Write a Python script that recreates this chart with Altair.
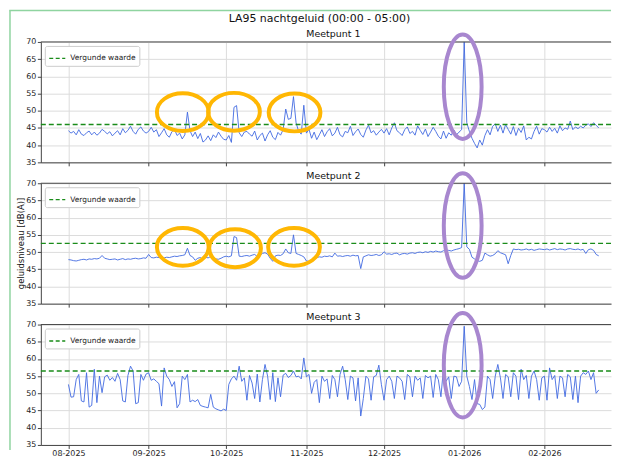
import altair as alt
import pandas as pd

# ---------------- text ----------------
title_text = "LA95 nachtgeluid (00:00 - 05:00)"
panel_titles = ["Meetpunt 1", "Meetpunt 2", "Meetpunt 3"]
limit_label = "Vergunde waarde"
y_label = "geluidsniveau [dB(A)]"
limits = [46.0, 52.5, 56.5]
start_date = "2025-08-01"
tick_months = [(2025, 8), (2025, 9), (2025, 10), (2025, 11), (2025, 12), (2026, 1), (2026, 2)]
y_ticks = [35, 40, 45, 50, 55, 60, 65, 70]

# ---------------- nightly LA95 values (one per night, from 1 Aug 2025) ----------------
mp1_aug = [44.2, 43.5, 44.0, 43.0, 44.5, 43.2, 42.8, 43.6, 44.1, 43.0, 43.8, 42.9, 43.5, 44.6, 44.0, 43.3,
           43.9, 42.7, 43.5, 44.2, 43.0, 44.8, 43.6, 44.3, 45.5, 44.0, 43.2, 44.6, 45.3, 44.1, 43.5]
mp1_sep = [44.0, 45.2, 43.8, 44.5, 42.5, 43.6, 44.8, 43.0, 42.3, 43.9, 44.6, 42.8, 43.5, 41.8, 43.0, 49.6,
           44.2, 42.5, 43.8, 41.9, 43.4, 40.9, 41.5, 42.7, 41.3, 43.0, 42.2, 43.8, 42.6, 41.7]
mp1_oct = [41.5, 42.8, 40.8, 51.0, 51.5, 43.6, 42.5, 43.8, 44.0, 43.2, 42.6, 44.1, 41.5, 42.8, 43.5, 41.2,
           43.0, 44.2, 42.3, 41.6, 43.7, 42.9, 44.5, 50.5, 47.5, 47.8, 54.1, 46.5, 44.0, 43.2, 51.6]
mp1_nov = [43.5, 44.6, 42.0, 43.8, 41.6, 43.0, 44.5, 42.5, 43.9, 44.8, 42.7, 43.5, 45.2, 43.0, 42.4, 44.0,
           43.6, 45.5, 42.8, 43.9, 44.7, 43.1, 42.3, 44.4, 45.8, 43.6, 44.2, 42.9, 43.8, 44.6]
mp1_dec = [43.5, 44.8, 43.0, 45.0, 46.5, 44.2, 43.6, 42.8, 44.5, 45.3, 43.4, 44.0, 42.9, 45.6, 44.3, 43.1,
           44.7, 42.5, 43.8, 45.2, 44.0, 42.6, 41.8, 44.1, 42.0, 43.6, 42.9, 44.4, 43.0, 43.8, 44.5]
mp1_jan = [70.0, 46.5, 44.0, 42.0, 40.5, 39.2, 41.5, 40.0, 42.8, 44.5, 43.0, 45.5, 46.2, 44.0, 45.8, 43.5,
           46.0, 44.6, 43.2, 45.4, 42.8, 44.9, 43.7, 45.6, 41.5, 42.3, 41.8, 44.0, 45.5, 43.2, 44.8]
mp1_feb = [44.5, 43.8, 45.2, 44.0, 44.9, 43.5, 45.6, 44.2, 45.0, 44.6, 47.0, 44.5, 45.3, 44.8, 45.5, 45.0,
           45.8, 46.2, 45.4, 46.5, 45.8, 45.0]

mp2_aug = [47.8, 47.7, 47.5, 47.4, 47.6, 47.8, 47.9, 47.7, 48.0, 47.9, 48.1, 48.0, 48.2, 49.0, 48.2, 48.0,
           47.8, 47.9, 48.0, 47.7, 47.9, 48.1, 47.8, 48.0, 47.9, 48.1, 48.2, 48.0, 48.1, 48.3, 48.2]
mp2_sep = [49.3, 48.4, 48.3, 48.5, 48.4, 48.6, 48.3, 48.5, 48.4, 48.6, 48.8, 48.7, 48.9, 49.0, 49.2, 51.1,
           49.0, 48.6, 47.6, 48.2, 48.4, 47.8, 48.5, 48.3, 48.7, 48.5, 48.0, 47.9, 48.2, 48.6]
mp2_oct = [48.8, 48.6, 48.9, 54.5, 54.2, 48.8, 48.7, 48.9, 49.0, 48.8, 49.1, 49.3, 48.7, 49.0, 49.6, 49.8,
           49.4, 48.2, 47.3, 48.9, 49.1, 49.0, 49.5, 50.9, 49.8, 49.6, 55.0, 49.6, 49.3, 49.0, 48.6]
mp2_nov = [47.4, 47.3, 47.5, 47.8, 48.4, 48.6, 48.5, 48.8, 48.7, 48.9, 48.6, 49.7, 48.8, 48.9, 48.7, 48.9,
           49.0, 48.8, 49.1, 48.9, 49.0, 45.2, 48.6, 48.9, 49.2, 49.0, 49.1, 49.3, 49.0, 49.2]
mp2_dec = [50.1, 49.4, 49.5, 49.3, 49.6, 49.7, 49.2, 49.5, 49.6, 49.4, 49.7, 49.8, 49.6, 49.9, 50.0, 49.8,
           50.1, 49.9, 50.2, 50.0, 50.3, 50.1, 50.0, 50.4, 50.2, 50.5, 50.3, 50.6, 50.8, 51.0, 51.3]
mp2_jan = [70.0, 51.5, 50.8, 48.5, 48.0, 47.5, 47.3, 47.6, 49.7, 49.2, 48.8, 49.0, 49.5, 50.4, 49.8, 49.5,
           49.2, 46.6, 49.0, 50.9, 50.7, 50.8, 50.6, 50.7, 50.9, 50.6, 50.8, 50.5, 50.7, 50.9, 50.8]
mp2_feb = [50.7, 50.9, 50.6, 50.8, 51.0, 50.7, 50.9, 50.8, 50.6, 50.9, 51.0, 50.8, 50.7, 50.9, 50.6, 50.8,
           49.6, 50.7, 50.9, 50.5, 49.3, 48.9]

mp3_aug = [52.6, 48.9, 49.0, 54.0, 55.5, 47.8, 47.5, 56.0, 46.0, 46.5, 57.0, 47.3, 55.0, 50.2, 54.8, 55.3,
           53.8, 54.6, 53.5, 55.8, 54.0, 47.8, 47.5, 55.2, 57.9, 56.5, 47.0, 47.3, 55.5, 53.8, 55.6]
mp3_sep = [56.0, 53.8, 54.2, 53.5, 52.8, 46.3, 57.4, 55.0, 54.0, 52.0, 53.4, 45.8, 47.0, 55.0, 54.0, 55.5,
           47.5, 48.0, 47.6, 48.2, 46.5, 46.2, 46.0, 45.8, 49.7, 46.0, 45.5, 45.2, 44.9, 45.4]
mp3_oct = [45.0, 52.6, 54.2, 55.0, 53.8, 57.9, 53.5, 54.5, 48.0, 55.2, 53.0, 48.5, 55.6, 47.5, 54.0, 58.4,
           55.0, 48.2, 56.0, 47.6, 54.5, 49.0, 55.3, 55.8, 54.6, 55.2, 56.5, 54.8, 55.0, 54.2, 60.3]
mp3_nov = [54.8, 55.5, 50.0, 53.2, 54.0, 47.3, 55.0, 53.5, 54.2, 48.5, 55.2, 54.0, 49.0, 55.5, 57.9, 54.0,
           48.2, 55.0, 54.5, 47.8, 54.5, 43.4, 48.5, 55.0, 54.2, 48.0, 54.8, 55.2, 58.2, 52.5]
mp3_dec = [48.0, 54.0, 55.0, 53.5, 48.5, 55.0, 54.5, 53.5, 48.2, 55.5, 54.8, 49.0, 55.0, 53.8, 54.5, 48.5,
           55.2, 54.5, 55.0, 48.8, 55.5, 54.0, 49.0, 57.4, 53.5, 54.8, 48.5, 55.0, 54.8, 52.0, 53.5]
mp3_jan = [69.5, 55.0, 52.0, 48.2, 54.0, 47.0, 46.8, 45.3, 46.0, 55.0, 54.0, 48.5, 55.0, 58.4, 54.5, 48.5,
           55.5, 54.8, 49.0, 56.0, 55.0, 48.2, 57.0, 54.0, 55.2, 48.5, 55.0, 56.5, 54.0, 48.0, 54.5]
mp3_feb = [55.0, 48.0, 57.4, 54.0, 55.2, 48.5, 55.0, 54.5, 49.0, 55.5, 54.8, 48.2, 55.0, 47.3, 55.0, 56.0,
           55.5, 56.5, 54.0, 56.0, 50.0, 51.0]

series = [
    mp1_aug + mp1_sep + mp1_oct + mp1_nov + mp1_dec + mp1_jan + mp1_feb,
    mp2_aug + mp2_sep + mp2_oct + mp2_nov + mp2_dec + mp2_jan + mp2_feb,
    mp3_aug + mp3_sep + mp3_oct + mp3_nov + mp3_dec + mp3_jan + mp3_feb,
]

# ---------------- annotation ellipses (centres) ----------------
orange_panel = [1, 1, 1, 2, 2, 2]
orange_date = ["2025-09-14T05:00:00Z", "2025-10-04T00:00:00Z", "2025-10-27T10:00:00Z",
               "2025-09-14T05:00:00Z", "2025-10-04T10:00:00Z", "2025-10-27T05:00:00Z"]
orange_value = [49.6, 49.7, 49.5, 51.5, 51.1, 51.5]
purple_panel = [1, 2, 3]
purple_date = ["2025-12-31T10:00:00Z", "2025-12-31T10:00:00Z", "2025-12-31T10:00:00Z"]
purple_value = [57.0, 57.7, 58.2]

# ---------------- styling ----------------
FONT = "DejaVu Sans"
W, H = 573, 121
LINE_BLUE = "#4169e1"
LIMIT_GREEN = "#1a8c1a"
ORANGE = "#ffb703"
PURPLE = "#a887cf"
BORDER_GREEN = "#8fd4a0"
K = 0.5523


def ellipse_path(rx, ry):
    return (f"M{-rx},0 C{-rx},{-K*ry} {-K*rx},{-ry} 0,{-ry} "
            f"C{K*rx},{-ry} {rx},{-K*ry} {rx},0 "
            f"C{rx},{K*ry} {K*rx},{ry} 0,{ry} "
            f"C{-K*rx},{ry} {-rx},{K*ry} {-rx},0 Z")


orange_shape = ellipse_path(1.0, 38 / 52)
purple_shape = ellipse_path(38 / 105, 1.0)

x_scale = alt.Scale(type="utc",
                    domain=[alt.DateTime(year=2025, month=7, date=21, hours=8, utc=True),
                            alt.DateTime(year=2026, month=2, date=26, hours=18, utc=True)])
y_scale = alt.Scale(domain=[35, 70], nice=False, zero=False)
month_values = [alt.DateTime(year=y, month=m, date=1, utc=True) for y, m in tick_months]

one = pd.DataFrame({"a": [0]})


def make_panel(i):
    vals = series[i]
    dates = pd.date_range(start_date, periods=len(vals), freq="D").strftime("%Y-%m-%d")
    df = pd.DataFrame({"date": dates, "value": vals})

    if i == 2:
        x_axis = alt.Axis(values=month_values, format="%m-%Y", tickSize=3.5, labelPadding=1.5,
                          grid=True, title=None, labelFontSize=8)
    else:
        x_axis = alt.Axis(values=month_values, labels=False, tickSize=3.5, grid=True, title=None)
    y_axis = alt.Axis(values=y_ticks, tickSize=3.5, labelPadding=1.5, grid=True, title=None,
                      labelFontSize=8)

    def X(field="date:T"):
        return alt.X(field, scale=x_scale, axis=x_axis)

    def Y(field="value:Q"):
        return alt.Y(field, scale=y_scale, axis=y_axis)

    line = alt.Chart(df).mark_line(color=LINE_BLUE, strokeWidth=0.9).encode(x=X(), y=Y())

    top_spine = alt.Chart(one).mark_rule(color="#444", strokeWidth=1).encode(
        x=alt.value(0), x2=alt.value(W), y=alt.value(0))

    lim_df = pd.DataFrame({"label": [limit_label], "value": [limits[i]]})
    limit = alt.Chart(lim_df).mark_rule(strokeDash=[5, 3], strokeWidth=1.3).encode(
        y=Y(),
        color=alt.Color("label:N",
                        scale=alt.Scale(domain=[limit_label], range=[LIMIT_GREEN]),
                        legend=alt.Legend(orient="top-left", offset=4, title=None,
                                          fillColor="white", strokeColor="#cccccc",
                                          cornerRadius=2, padding=3.5,
                                          symbolType="stroke", symbolStrokeWidth=1.4,
                                          symbolSize=260, symbolDash=[4, 2.5],
                                          labelFontSize=7.5, labelFont=FONT,
                                          labelColor="#222")),
    )

    layers = [line, top_spine, limit]

    od = pd.DataFrame({"panel": orange_panel, "date": orange_date, "value": orange_value})
    od = od[od["panel"] == i + 1]
    if len(od):
        layers.append(alt.Chart(od).mark_point(shape=orange_shape, size=52 * 52, filled=False,
                                               strokeWidth=4, color=ORANGE, opacity=1).encode(
            x=X(), y=Y()))

    pdf = pd.DataFrame({"panel": purple_panel, "date": purple_date, "value": purple_value})
    pdf = pdf[pdf["panel"] == i + 1]
    layers.append(alt.Chart(pdf).mark_point(shape=purple_shape, size=105 * 105, filled=False,
                                            strokeWidth=4, color=PURPLE, opacity=1).encode(
        x=X(), y=Y()))

    sub = alt.Chart(pd.DataFrame({"t": [panel_titles[i]]})).mark_text(
        font=FONT, fontSize=9.5, color="#111", baseline="middle").encode(
        x=alt.value(294), y=alt.value(-7.5), text="t:N")
    layers.append(sub)

    if i == 0:
        ttl = alt.Chart(pd.DataFrame({"t": [title_text]})).mark_text(
            font=FONT, fontSize=11, color="#111", baseline="middle").encode(
            x=alt.value(280), y=alt.value(-23), text="t:N")
        left_border = alt.Chart(one).mark_rule(color=BORDER_GREEN, strokeWidth=1.5).encode(
            x=alt.value(-31), y=alt.value(-31.5), y2=alt.value(410))
        top_border = alt.Chart(one).mark_rule(color=BORDER_GREEN, strokeWidth=1.5).encode(
            x=alt.value(-31.75), x2=alt.value(W), y=alt.value(-31.5))
        layers += [ttl, left_border, top_border]
    if i == 1:
        ylab = alt.Chart(pd.DataFrame({"t": [y_label]})).mark_text(
            font=FONT, fontSize=8.5, color="#111", angle=270, baseline="middle").encode(
            x=alt.value(-20), y=alt.value(H / 2), text="t:N")
        layers.append(ylab)

    return alt.layer(*layers).properties(width=W, height=H)


chart = alt.vconcat(make_panel(0), make_panel(1), make_panel(2), spacing=21, bounds="flush") \
    .resolve_scale(color="independent") \
    .properties(padding={"left": 0, "top": 0, "right": 0, "bottom": 0}) \
    .configure(font=FONT) \
    .configure_view(stroke="transparent") \
    .configure_axis(gridColor="#dcdcdc", gridWidth=1, domainColor="#444", tickColor="#444",
                    labelColor="#222", labelFont=FONT)

chart.save("out.html", embed_options={"renderer": "svg", "actions": False})
